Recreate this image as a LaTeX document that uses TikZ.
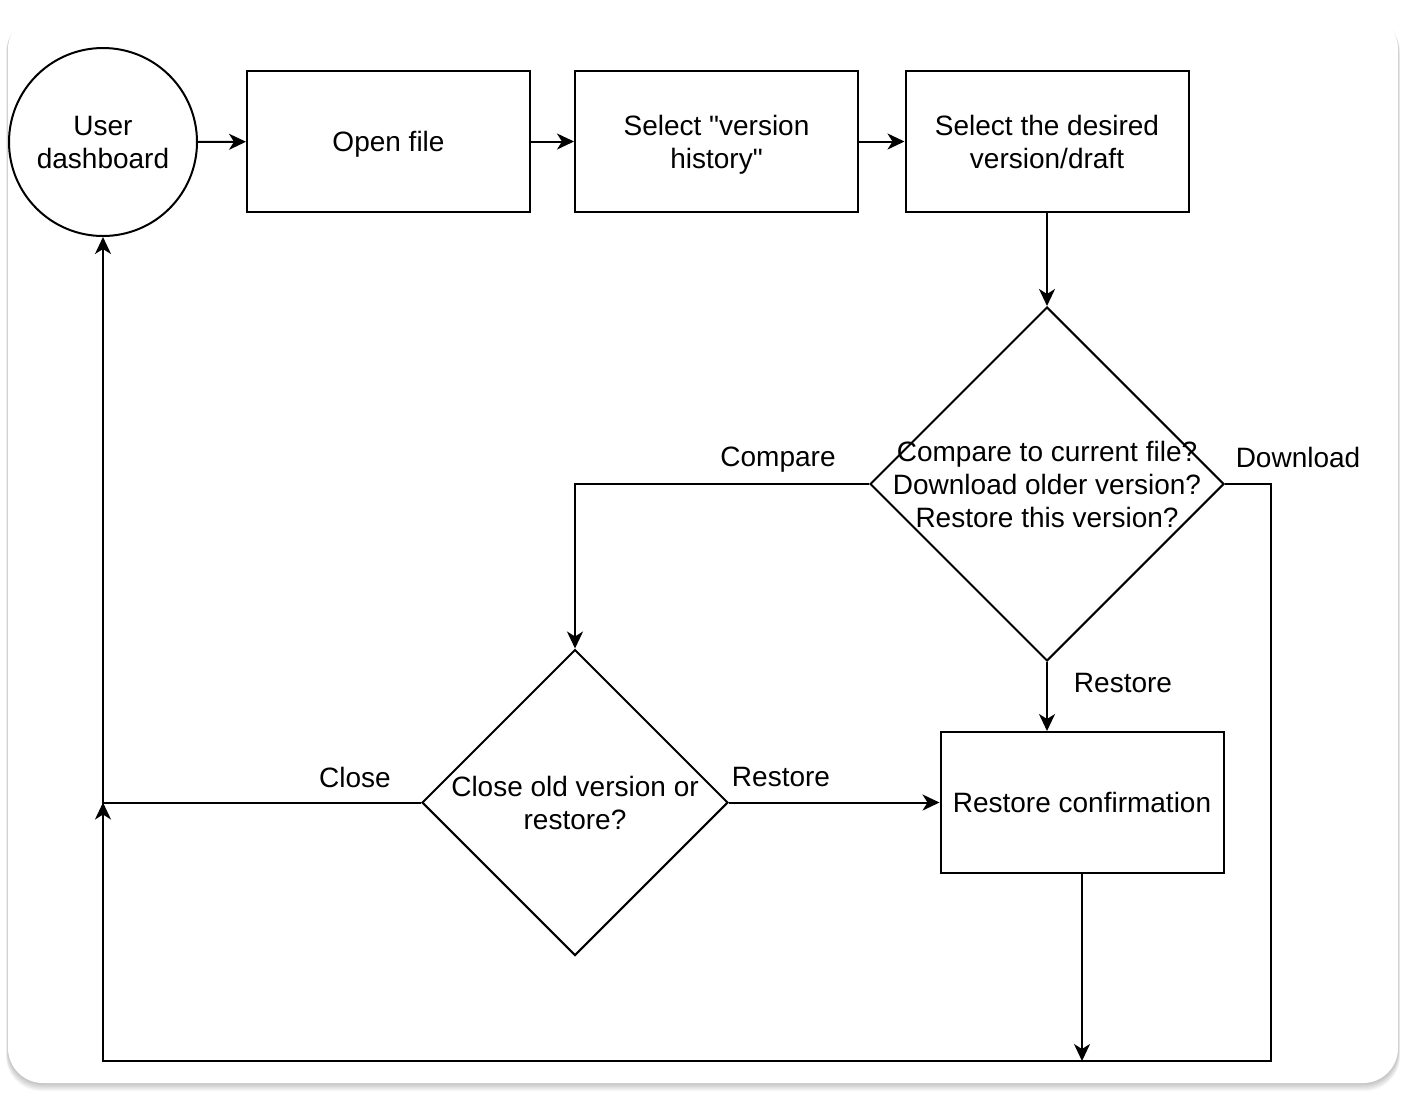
\documentclass[tikz,border=0pt]{standalone}
\usepackage{fontspec}
\setmainfont{Liberation Sans}
\usetikzlibrary{shapes.geometric,arrows.meta}

\tikzset{
  stepbox/.style={draw, rectangle, minimum width=141.5pt, minimum height=70.5pt, inner sep=0pt, align=center},
  startnode/.style={draw, circle, minimum size=94pt, inner sep=0pt, align=center},
  decision/.style={draw, diamond, inner sep=0pt}
}

\begin{document}
\begin{tikzpicture}[x=0.5pt, y=-0.5pt, line width=1pt, font=\fontsize{14}{16.5}\selectfont]
	% Hintergrund mit Schatten
	\useasboundingbox (0,0) rectangle (1406,1099);
	\foreach \s in {1,...,8}
		\fill[black, opacity=0.03, rounded corners=17.5pt] (8-\s/4,14+\s/2) rectangle (1398+\s/4,1083+\s);
	\fill[white, rounded corners=17.5pt] (8,14) rectangle (1398,1083);
	
	% Knoten zeichnen
	\node[startnode] (dashboard) at (103,142) {User\\dashboard};
	\node[stepbox, text depth=0pt] (open) at (388.5,141.5) {Open file};
	\node[stepbox, text depth=0pt] (history) at (716.5,141.5) {Select \textquotedbl version\\history\textquotedbl};
	\node[stepbox] (desired) at (1047,141.5) {Select the desired\\version/draft};
	\node[decision, minimum size=177pt,
		label={[align=center]center:{Compare to current file?\\Download older version?\\Restore this version?}}] (choice) at (1047,484) {};
	\node[decision, minimum size=153pt,
		label={[align=center]center:{Close old version or\\restore?}}] (closeq) at (575,802.5) {};
	\node[stepbox] (confirm) at (1082,802.5) {Restore confirmation};
	
	% Eckpunkte der Verbindungen
	\coordinate (bottomright) at (1271,1061);
	\coordinate (join) at (103,802.5);
	\coordinate (confirmend) at (1082,1061);
	
	% Verbindungen zeichnen
	\begin{scope}[>={Stealth[length=8.5pt,width=8pt,inset=2.5pt]}]
		\draw[->] (dashboard) -- (open);
		\draw[->] (open) -- (history);
		\draw[->] (history) -- (desired);
		\draw[->] (desired) -- (choice);
		\draw[->] (choice.west) -| (closeq.north);
		\draw[->] (choice.south) -- (choice.south |- confirm.north);
		\draw[->] (choice.east) -| (bottomright) -| (join);
		\draw[->] (closeq.west) -| (dashboard.south);
		\draw[->] (closeq.east) -- (confirm.west);
		\draw[->] (confirm.south) -- (confirmend);
	\end{scope}
	
	% Beschriftungen eintragen
	\node (comparelabel) at (778,460) {Compare};
	\node (downloadlabel) at (1298,457) {Download};
	\node (restoredown) at (1123,683) {Restore};
	\node (restoreright) at (781,777) {Restore};
	\node (closelabel) at (355,777) {Close};
\end{tikzpicture}
\end{document}
